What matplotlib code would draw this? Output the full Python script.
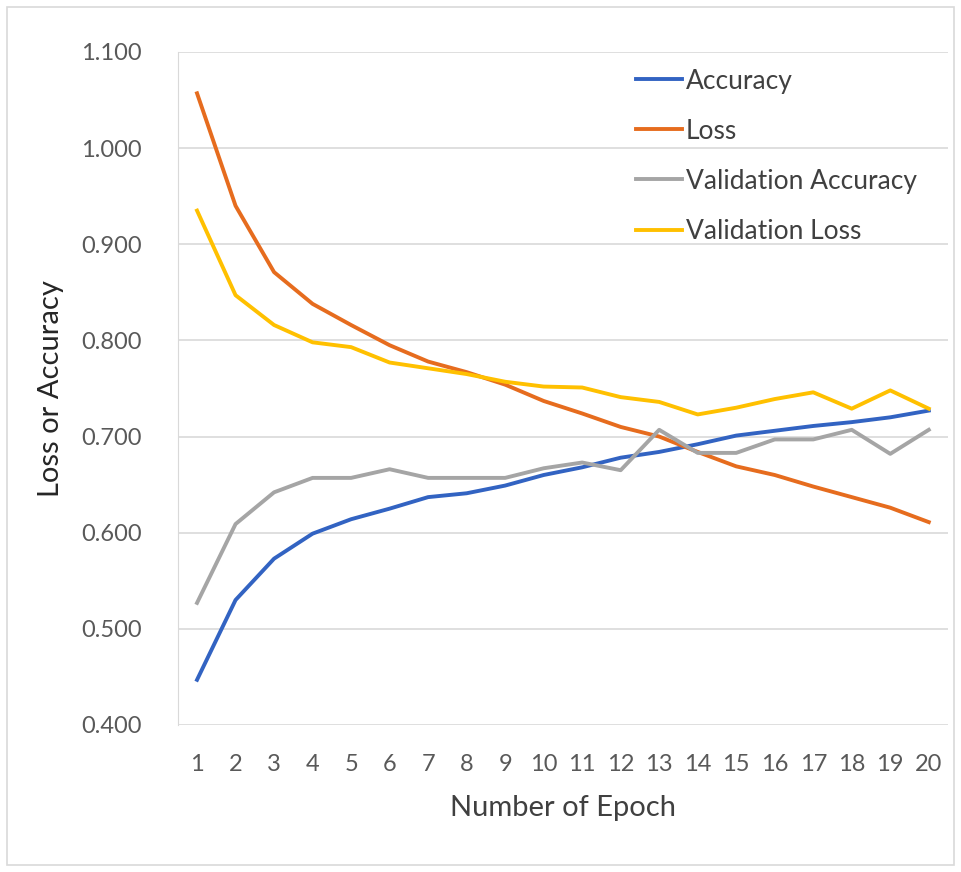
import numpy as np
import matplotlib.pyplot as plt
from matplotlib.patches import Rectangle

plt.rcParams['font.family'] = ['Lato', 'DejaVu Sans']

# 数据
epochs   = list(range(1, 21))
accuracy = [0.447, 0.530, 0.573, 0.599, 0.614, 0.625, 0.637, 0.641, 0.649, 0.660,
            0.668, 0.678, 0.684, 0.692, 0.701, 0.706, 0.711, 0.715, 0.720, 0.727]
loss     = [1.057, 0.940, 0.871, 0.838, 0.816, 0.795, 0.778, 0.767, 0.754, 0.737,
            0.724, 0.710, 0.700, 0.684, 0.669, 0.660, 0.648, 0.637, 0.626, 0.611]
val_acc  = [0.527, 0.609, 0.642, 0.657, 0.657, 0.666, 0.657, 0.657, 0.657, 0.667,
            0.673, 0.665, 0.707, 0.683, 0.683, 0.697, 0.697, 0.707, 0.682, 0.707]
val_loss = [0.935, 0.847, 0.816, 0.798, 0.793, 0.777, 0.771, 0.765, 0.757, 0.752,
            0.751, 0.741, 0.736, 0.723, 0.730, 0.739, 0.746, 0.729, 0.748, 0.729]
series   = ['Accuracy', 'Loss', 'Validation Accuracy', 'Validation Loss']
colors   = ['#3263C2', '#E66C1E', '#A5A5A5', '#FFC000']
yticks   = [0.4, 0.5, 0.6, 0.7, 0.8, 0.9, 1.0, 1.1]

fig = plt.figure(figsize=(9.61, 8.72), dpi=100)
ax  = fig.add_axes([0.185, 0.1686, 0.8015, 0.7718])

for vals, name, c in zip([accuracy, loss, val_acc, val_loss], series, colors):
    ax.plot(epochs, vals, color=c, lw=2.8, label=name, solid_joinstyle='round', zorder=3)

ax.set_xlim(0.5, 20.5)
ax.set_ylim(0.4, 1.1)
ax.set_yticks(yticks)
ax.set_yticklabels([f'{v:.3f}' for v in yticks])
ax.set_xticks(epochs)
ax.grid(axis='y', color='#D9D9D9', lw=1.2, zorder=0)
for k, s in ax.spines.items():
    s.set_visible(k == 'left')
ax.spines['left'].set_color('#D9D9D9')
ax.tick_params(length=0, labelsize=17, labelcolor='#595959')
ax.tick_params(axis='y', pad=26)
ax.tick_params(axis='x', pad=21)

ax.set_xlabel('Number of Epoch', fontsize=21, color='#404040', labelpad=14)
ax.set_ylabel('Loss or Accuracy', fontsize=21, color='#262626', labelpad=12)

leg = ax.legend(loc='upper left', bbox_to_anchor=(0.578, 0.995), frameon=False,
                fontsize=19, handlelength=1.75, handletextpad=0.12,
                labelspacing=0.95, borderpad=0)
for t in leg.get_texts():
    t.set_color('#404040')

# 外框
fig.patches.append(Rectangle((7/961, 7/872), 947/961, 858/872, transform=fig.transFigure,
                             fill=False, edgecolor='#D9D9D9', lw=1.2))

fig.savefig('out.png', dpi=100)
